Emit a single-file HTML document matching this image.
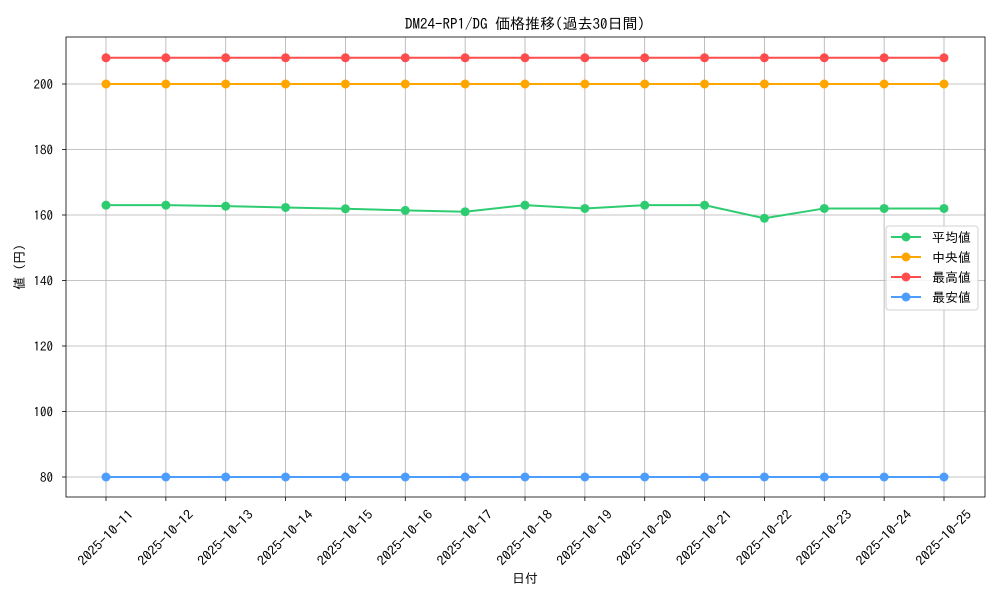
<!DOCTYPE html>
<html><head><meta charset="utf-8"><style>
body{margin:0;background:#fff;font-family:"IPAGothic","Noto Sans CJK JP",sans-serif;}
svg text{font-family:"IPAGothic","Noto Sans CJK JP",sans-serif;}
</style></head><body>
<svg id="chart" width="1000" height="600"></svg>
<script>
const categories=["2025-10-11","2025-10-12","2025-10-13","2025-10-14","2025-10-15","2025-10-16","2025-10-17","2025-10-18","2025-10-19","2025-10-20","2025-10-21","2025-10-22","2025-10-23","2025-10-24","2025-10-25"];
const avgValues=[163,163,162.7,162.3,161.9,161.4,161,163,162,163,163,159,162,162,162];
const medianValues=[200,200,200,200,200,200,200,200,200,200,200,200,200,200,200];
const maxValues=[208,208,208,208,208,208,208,208,208,208,208,208,208,208,208];
const minValues=[80,80,80,80,80,80,80,80,80,80,80,80,80,80,80];
const yTicks=[80,100,120,140,160,180,200];
const seriesNames=["平均値","中央値","最高値","最安値"];
const seriesColors=["#2ecc71","#ffa500","#ff4d4d","#4d9dff"];

const NS="http://www.w3.org/2000/svg";
const svg=document.getElementById('chart');
const L=66,R=985,T=37,B=497;
function x(i){return 106+i*(944-106)/(categories.length-1);}
function y(v){return 477-(v-80)*(393/120);}
function mk(tag,attrs,parent){const e=document.createElementNS(NS,tag);for(const k in attrs)e.setAttribute(k,attrs[k]);(parent||svg).appendChild(e);return e;}

categories.forEach((c,i)=>{
  const g=mk('line',{x1:x(i),x2:x(i),y1:T,y2:B,stroke:'#b0b0b0','stroke-width':0.8});
  
  
  mk('line',{x1:x(i),x2:x(i),y1:B,y2:B+4,stroke:'#000','stroke-width':0.8});
  const cx=x(i), cy=B+41;
  const t=mk('text',{x:cx,y:cy+4,'font-size':13,'text-anchor':'middle',textLength:72,lengthAdjust:'spacingAndGlyphs',transform:`rotate(-45 ${cx} ${cy})`});
  t.textContent=c;
  
  
});
yTicks.forEach(v=>{
  const g=mk('line',{x1:L,x2:R,y1:y(v),y2:y(v),stroke:'#b0b0b0','stroke-width':0.8});
  
  
  mk('line',{x1:L-4,x2:L,y1:y(v),y2:y(v),stroke:'#000','stroke-width':0.8});
  const t=mk('text',{x:L-13,y:y(v)+5,'font-size':13,'text-anchor':'end'});
  t.textContent=v;
  
  
});
const frame=mk('rect',{x:L,y:T,width:R-L,height:B-T,fill:'none',stroke:'#000','stroke-width':0.8});



const all=[avgValues,medianValues,maxValues,minValues];
all.forEach((vals,s)=>{
  const p=mk('polyline',{points:vals.map((v,i)=>x(i)+','+y(v)).join(' '),fill:'none',stroke:seriesColors[s],'stroke-width':2});
  
  
  vals.forEach((v,i)=>{
    const c=mk('circle',{cx:x(i),cy:y(v),r:4.5,fill:seriesColors[s]});
    
    
  });
});

const lg=mk('rect',{x:886,y:226,width:92,height:84,rx:3,fill:'#fff','fill-opacity':0.85,stroke:'#d0d0d0'});


seriesNames.forEach((n,s)=>{
  const yy=237+s*20;
  mk('line',{x1:891,x2:921,y1:yy,y2:yy,stroke:seriesColors[s],'stroke-width':2});
  mk('circle',{cx:906,cy:yy,r:4.5,fill:seriesColors[s]});
  const t=mk('text',{x:932,y:yy+5,'font-size':13});
  t.textContent=n;
  
  
});

const title=mk('text',{x:525,y:29,'font-size':15,'text-anchor':'middle'});
title.textContent="DM24-RP1/DG 価格推移(過去30日間)";


const xt=mk('text',{x:525,y:583,'font-size':13,'text-anchor':'middle'});
xt.textContent="日付";


const yt=mk('text',{x:24,y:267,'font-size':13,'text-anchor':'middle',transform:'rotate(-90 24 267)'});
yt.textContent="値 (円)";


</script>
</body></html>
